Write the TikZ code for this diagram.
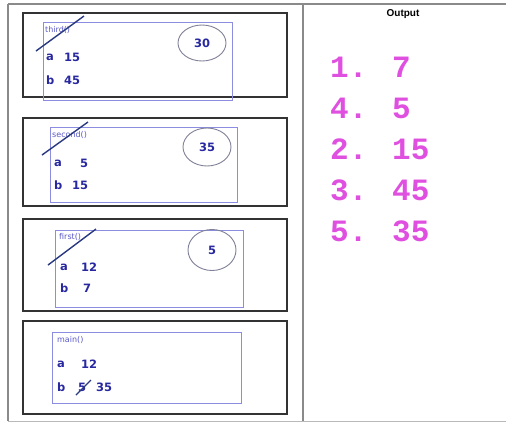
\documentclass[tikz,border=0pt]{standalone}
\usepackage{fontspec}
\setmainfont{Liberation Sans}
\newfontfamily\vfont{DejaVu Sans}
\newfontfamily\monofont{Liberation Mono}
\definecolor{framegray}{HTML}{8A8A8A}
\definecolor{boxblack}{HTML}{333333}
\definecolor{innerblue}{HTML}{8C8CE0}
\definecolor{ovalgray}{HTML}{808098}
\definecolor{txtblue}{HTML}{2828A0}
\definecolor{ttlblue}{HTML}{5A5AC8}
\definecolor{strike}{HTML}{2A3A80}
\definecolor{outmag}{HTML}{E050E0}
\tikzset{
  framebox/.style={draw=boxblack, line width=2.2pt},
  innerbox/.style={draw=innerblue, line width=0.8pt},
  oval/.style={draw=ovalgray, line width=0.9pt, ellipse},
  vartxt/.style={text=txtblue, font=\vfont\bfseries\fontsize{11.5}{13}\selectfont, inner sep=0pt, anchor=west},
  ttltxt/.style={text=ttlblue, font=\vfont\fontsize{8}{9}\selectfont, inner sep=0pt, anchor=west},
  ovaltxt/.style={text=txtblue, font=\vfont\bfseries\fontsize{11.5}{13}\selectfont, inner sep=0pt},
  strikeline/.style={draw=strike, line width=1.4pt},
  outtxt/.style={text=outmag, font=\monofont\bfseries\fontsize{31}{33}\selectfont, inner sep=0pt, anchor=west},
}
\usetikzlibrary{shapes.geometric}
\begin{document}
\begin{tikzpicture}[x=1pt,y=-1pt]
\useasboundingbox (0,0) rectangle (506,424);
\fill[white] (0,0) rectangle (506,424);
% outer frame
\draw[framegray, line width=2pt] (8,4) -- (506,4);
\draw[framegray, line width=2pt] (8,4) -- (8,421);
\draw[framegray!60, line width=1pt] (8,421) -- (506,421);
\draw[framegray, line width=2pt] (303,4) -- (303,421);
% boxes
\draw[framebox] (23,13) rectangle (287,97);
\draw[framebox] (23,118) rectangle (287,206);
\draw[framebox] (23,219) rectangle (287,311);
\draw[framebox] (23,321) rectangle (287,414);
% inner boxes
\draw[innerbox] (43,22) rectangle (232,100);
\draw[innerbox] (50,127) rectangle (237,202);
\draw[innerbox] (55,230) rectangle (243,307);
\draw[innerbox] (52,332) rectangle (241,403);
% box 1
\node[ttltxt] (t1) at (45,30) {third()};
\node[vartxt] (a1) at (46,57) {a};
\node[vartxt] (a1v) at (64,57) {15};
\node[vartxt] (b1) at (46,80) {b};
\node[vartxt] (b1v) at (64,80) {45};
\node[oval, minimum width=48pt, minimum height=36pt] (o1) at (202,43) {};
\node[ovaltxt] (o1t) at (o1) {30};
\coordinate (s1a) at (36,51);
\coordinate (s1b) at (84,16);
\draw[strikeline] (s1a) -- (s1b);
% box 2
\node[ttltxt] (t2) at (52,135) {second()};
\node[vartxt] (a2) at (54,163) {a};
\node[vartxt] (a2v) at (80,163) {5};
\node[vartxt] (b2) at (54,185) {b};
\node[vartxt] (b2v) at (72,185) {15};
\node[oval, minimum width=48pt, minimum height=38pt] (o2) at (207,147) {};
\node[ovaltxt] (o2t) at (o2) {35};
\coordinate (s2a) at (42,155);
\coordinate (s2b) at (88,122);
\draw[strikeline] (s2a) -- (s2b);
% box 3
\node[ttltxt] (t3) at (59,237) {first()};
\node[vartxt] (a3) at (60,267) {a};
\node[vartxt] (a3v) at (81,267) {12};
\node[vartxt] (b3) at (60,288) {b};
\node[vartxt] (b3v) at (83,288) {7};
\node[oval, minimum width=48pt, minimum height=41pt] (o3) at (212,250) {};
\node[ovaltxt] (o3t) at (o3) {5};
\coordinate (s3a) at (48,265);
\coordinate (s3b) at (96,229);
\draw[strikeline] (s3a) -- (s3b);
% box 4
\node[ttltxt] (t4) at (57,340) {main()};
\node[vartxt] (a4) at (57,364) {a};
\node[vartxt] (a4v) at (81,364) {12};
\node[vartxt] (b4) at (57,387) {b};
\node[vartxt] (b4v) at (78,387) {5};
\node[vartxt] (b4n) at (96,387) {35};
\coordinate (s4a) at (76,395);
\coordinate (s4b) at (91,380);
\draw[strikeline] (s4a) -- (s4b);
% output
\node[font=\bfseries\fontsize{10}{11}\selectfont, inner sep=0pt] (out) at (403,14) {Output};
\node[outtxt] (l1) at (330,67) {1. 7};
\node[outtxt] (l2) at (330,108) {4. 5};
\node[outtxt] (l3) at (330,149) {2. 15};
\node[outtxt] (l4) at (330,190) {3. 45};
\node[outtxt] (l5) at (330,231) {5. 35};
\end{tikzpicture}
\end{document}
